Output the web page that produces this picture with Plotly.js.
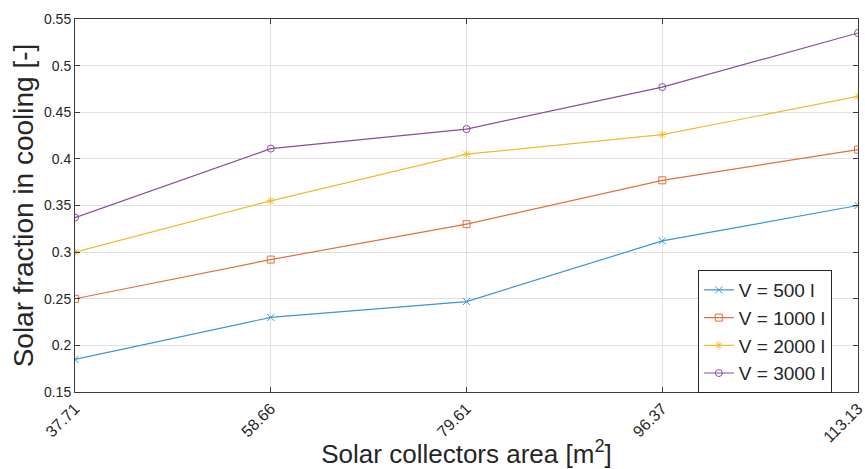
<!DOCTYPE html>
<html>
<head>
<meta charset="utf-8">
<script src="https://cdn.plot.ly/plotly-3.0.1.min.js"></script>
<style>html,body{margin:0;padding:0;background:#fff;}#chart{width:865px;height:469px;}</style>
</head>
<body>
<div id="chart"></div>
<script>
const areas = ["37.71", "58.66", "79.61", "96.37", "113.13"];
const v500 = [0.185, 0.230, 0.247, 0.312, 0.350];
const v1000 = [0.250, 0.292, 0.330, 0.377, 0.410];
const v2000 = [0.300, 0.355, 0.405, 0.426, 0.467];
const v3000 = [0.337, 0.411, 0.432, 0.477, 0.535];
const seriesNames = ["V = 500 l", "V = 1000 l", "V = 2000 l", "V = 3000 l"];

const colors = ["#3a96d4", "#e0703f", "#efbb30", "#8a4c9b"];
const symbols = ["x-thin-open", "square-open", "asterisk-open", "circle-open"];
const allValues = [v500, v1000, v2000, v3000];

const traces = allValues.map((vals, i) => ({
  x: areas,
  y: vals,
  type: "scatter",
  mode: "lines+markers",
  name: seriesNames[i],
  line: {color: colors[i], width: 1.2},
  marker: {symbol: symbols[i], size: 7, color: colors[i], line: {color: colors[i], width: 1}}
}));

const FONT = "Liberation Sans, Arial, Helvetica, sans-serif";

const axisCommon = {
  showline: true,
  linecolor: "#3a3a3a",
  linewidth: 1,
  mirror: "ticks",
  ticks: "inside",
  ticklen: 5,
  tickcolor: "#3a3a3a",
  showgrid: true,
  gridcolor: "#e0e0e0",
  gridwidth: 1,
  zeroline: false
};

const layout = {
  width: 865,
  height: 469,
  margin: {l: 75, r: 7, t: 19, b: 77},
  paper_bgcolor: "#ffffff",
  plot_bgcolor: "#ffffff",
  font: {family: FONT, color: "#262626"},
  showlegend: true,
  legend: {
    x: 0.881, y: 0.162, xanchor: "center", yanchor: "middle",
    bgcolor: "#ffffff", bordercolor: "#262626", borderwidth: 1,
    font: {family: FONT, size: 19, color: "#262626"},
    tracegroupgap: 0
  },
  xaxis: Object.assign({}, axisCommon, {
    type: "category",
    range: [0, 4],
    tickangle: -45,
    tickfont: {family: FONT, size: 16, color: "#262626"},
    title: {text: "Solar collectors area [m<sup>2</sup>]", font: {family: FONT, size: 26, color: "#262626"}, standoff: 0}
  }),
  yaxis: Object.assign({}, axisCommon, {
    range: [0.15, 0.55],
    dtick: 0.05,
    tickfont: {family: FONT, size: 14, color: "#262626"},
    title: {text: "Solar fraction in cooling [-]", font: {family: FONT, size: 28, color: "#262626"}, standoff: 2}
  })
};

Plotly.newPlot("chart", traces, layout, {displayModeBar: false, staticPlot: true});
</script>
</body>
</html>
